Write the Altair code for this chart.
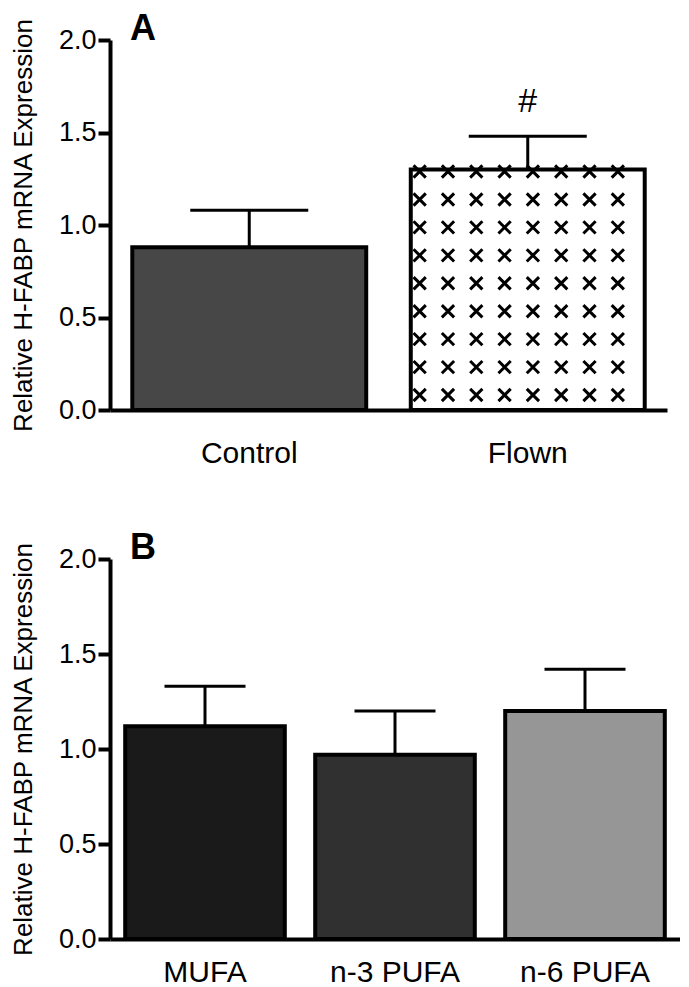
import altair as alt
import pandas as pd
import numpy as np

FONT = "Liberation Sans"

# ---- Panel A data ----
a_groups = ["Control", "Flown"]
a_means = [0.88, 1.30]
a_sems = [0.20, 0.18]
a_marks = ["", "#"]
a_colors = ["#474747", "#ffffff"]

# ---- Panel B data ----
b_groups = ["MUFA", "n-3 PUFA", "n-6 PUFA"]
b_means = [1.12, 0.97, 1.20]
b_sems = [0.21, 0.23, 0.22]
b_marks = ["", "", ""]
b_colors = ["#1a1a1a", "#303030", "#969696"]

y_title = "Relative H-FABP mRNA Expression"
y_ticks = [0.0, 0.5, 1.0, 1.5, 2.0]

P_IN, P_OUT = 0.16, 0.08


def panel(groups, means, sems, marks, colors, letter, width, height, cap, label_pad, pattern_group=None):
    n = len(groups)
    step = width / (n - P_IN + 2 * P_OUT)
    bw = step * (1 - P_IN)
    df = pd.DataFrame({
        "g": groups,
        "m": means,
        "top": [m + s for m, s in zip(means, sems)],
        "mk": marks,
        "c": colors,
    })
    xax = alt.Axis(title=None, labelAngle=0, ticks=False, domainWidth=4, domainColor="black",
                   labelFontSize=30, labelPadding=label_pad, labelColor="black", labelFont=FONT,
                   orient="bottom")
    yax = alt.Axis(values=y_ticks, format=".1f", title=y_title, grid=False,
                   domainWidth=4, domainColor="black", tickWidth=4, tickSize=12, tickColor="black",
                   labelFontSize=27, labelPadding=2, labelColor="black", labelFont=FONT,
                   titleFontSize=26, titleFontWeight="normal", titleColor="black", titleFont=FONT,
                   titlePadding=22)
    xs = alt.Scale(type="band", paddingInner=P_IN, paddingOuter=P_OUT)
    ys = alt.Scale(domain=[0, 2], nice=False, zero=True)

    def X():
        return alt.X("g:N", sort=groups, scale=xs, axis=xax)

    def Y(f):
        return alt.Y(f, scale=ys, axis=yax)

    base = alt.Chart(df)
    if pattern_group is None:
        inner = [base.mark_bar(stroke="black", strokeWidth=4, width=bw).encode(
            x=X(), y=Y("m:Q"), fill=alt.Fill("c:N", scale=None))]
    else:
        # fills and pattern are drawn underneath; here only the outlines
        inner = [base.mark_bar(stroke="black", strokeWidth=4, fillOpacity=0, width=bw).encode(
            x=X(), y=Y("m:Q"))]
    inner += [
        base.mark_rule(stroke="black", strokeWidth=3).encode(x=X(), y=Y("m:Q"), y2="top:Q"),
        base.mark_tick(color="black", size=cap, thickness=3, opacity=1).encode(x=X(), y=Y("top:Q")),
        base.mark_text(fontSize=34, baseline="middle", dy=-34, font=FONT, color="black").encode(
            x=X(), y=Y("top:Q"), text="mk:N"),
    ]
    inner_layer = alt.layer(*inner)

    outer = []
    if pattern_group is not None:
        gi = groups.index(pattern_group)
        pv = means[gi]
        start_f = (P_OUT * step + gi * step) / width
        bw_f = bw / width
        rows = np.arange(0.081, pv + 0.02, 0.151)
        cols = start_f + np.arange(0.038, 0.95, 0.121) * bw_f
        pdf = pd.DataFrame([(c, r) for r in rows for c in cols], columns=["px", "py"])
        pat = alt.Chart(pdf).mark_point(
            shape="M-1,-1L1,1M1,-1L-1,1", filled=False, stroke="black", strokeWidth=3,
            size=150, opacity=1).encode(
            x=alt.X("px:Q", scale=alt.Scale(domain=[0, 1], nice=False, zero=False), axis=None),
            y=Y("py:Q"))
        under = alt.layer(
            base.mark_bar(strokeWidth=0, width=bw).encode(
                x=alt.X("g:N", sort=groups, scale=xs, axis=None), y=Y("m:Q"),
                fill=alt.Fill("c:N", scale=None)),
            pat,
        ).resolve_scale(x="independent")
        outer.append(under)
    outer.append(inner_layer)

    lt = pd.DataFrame({"t": [letter]})
    outer.append(alt.Chart(lt).mark_text(align="left", baseline="alphabetic", fontSize=36,
                                         fontWeight="bold", font=FONT, color="black").encode(
        x=alt.value(20), y=alt.value(0), text="t:N"))

    return alt.layer(*outer).resolve_scale(x="independent").properties(width=width, height=height)


A = panel(a_groups, a_means, a_sems, a_marks, a_colors, "A", 557, 370, 118, 28, pattern_group="Flown")
B = panel(b_groups, b_means, b_sems, b_marks, b_colors, "B", 570, 380, 81, 18)

chart = alt.vconcat(A, B, spacing=62).configure(
    padding={"left": 2, "top": 3, "right": 0, "bottom": 0}, font=FONT
).configure_view(stroke=None)

chart.save("out.html", embed_options={"renderer": "svg", "actions": False})
